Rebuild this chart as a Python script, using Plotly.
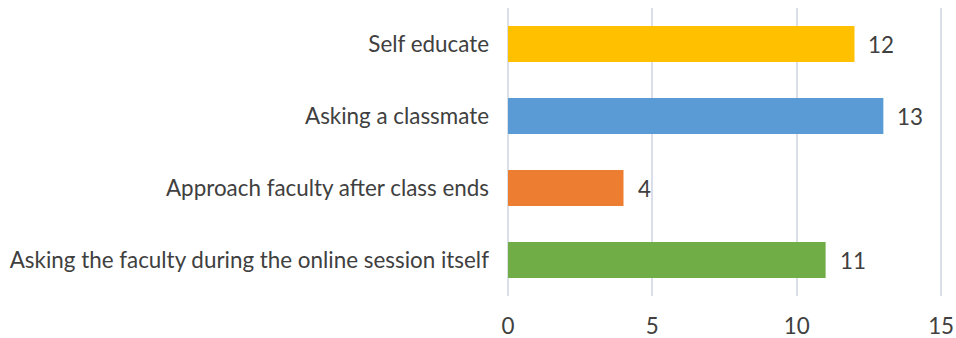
import plotly.graph_objects as go

# Response options, listed bottom to top as drawn on the category axis
categories = [
    "Asking the faculty during the online session itself",
    "Approach faculty after class ends",
    "Asking a classmate",
    "Self educate",
]
counts = [11, 4, 13, 12]
bar_colors = ["#70AD47", "#ED7D31", "#5B9BD5", "#FFC000"]
x_ticks = [0, 5, 10, 15]

font_family = "Lato, Carlito, Calibri, sans-serif"
text_color = "#404040"
font_size = 22.4

fig = go.Figure(
    go.Bar(
        x=counts,
        y=categories,
        orientation="h",
        marker=dict(color=bar_colors, line=dict(width=0)),
        width=0.5,
        hoverinfo="skip",
    )
)

# Value labels placed just past the end of each bar
for cat, val in zip(categories, counts):
    fig.add_annotation(
        x=val, y=cat, text=str(val), showarrow=False,
        xanchor="left", yanchor="middle", xshift=12,
        font=dict(family=font_family, size=font_size, color=text_color),
    )

fig.update_layout(
    width=956, height=338,
    margin=dict(l=508, r=12, t=8, b=42, autoexpand=False),
    paper_bgcolor="white", plot_bgcolor="white",
    showlegend=False,
    font=dict(family=font_family, size=font_size, color=text_color),
    bargap=0.5,
)
fig.update_xaxes(
    range=[0, 15.1], tickvals=x_ticks, ticktext=[str(t) for t in x_ticks],
    showgrid=True, gridcolor="#D9DEE8", gridwidth=1.5,
    zeroline=True, zerolinecolor="#D9DEE8", zerolinewidth=1.5,
    showline=False, ticks="", automargin=False,
    ticklabelstandoff=15,
    tickfont=dict(family=font_family, size=font_size, color=text_color),
)
fig.update_yaxes(
    categoryorder="array", categoryarray=categories,
    showgrid=False, zeroline=False, showline=False, ticks="", automargin=False,
    ticklabelstandoff=18,
    tickfont=dict(family=font_family, size=font_size, color=text_color),
)

fig.write_html("out.html")
